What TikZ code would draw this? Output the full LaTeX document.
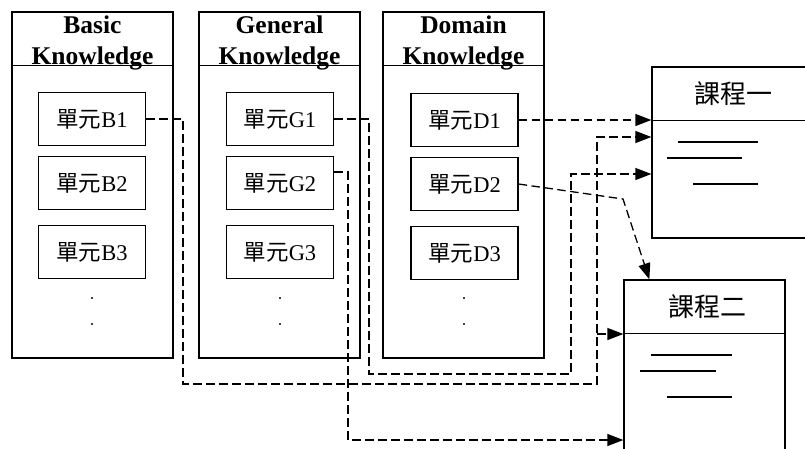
\documentclass[tikz,border=0pt]{standalone}
\usepackage{fontspec}
\setmainfont{Liberation Serif}
\newfontfamily\cjk{Noto Sans CJK TC}
\usetikzlibrary{arrows.meta}
\begin{document}
\begin{tikzpicture}[x=1pt,y=-1pt,
  colbox/.style={draw,line width=1.3pt,minimum width=161pt,minimum height=346pt,inner sep=0pt},
  hdr/.style={align=center,inner sep=0pt,font=\bfseries\fontsize{25.5}{31}\selectfont},
  unit/.style={draw,line width=1.3pt,minimum width=107pt,minimum height=53pt,inner sep=0pt,font=\fontsize{22.5}{26}\selectfont},
  course/.style={draw,line width=1.3pt,inner sep=0pt},
  ctitle/.style={inner sep=0pt,font=\cjk\fontsize{26}{30}\selectfont},
  rulestroke/.style={line width=1.2pt},
  dline/.style={line width=1.3pt,dash pattern=on 8.5pt off 4.5pt},
  darrow/.style={dline,-{Triangle[length=16pt,width=12pt]}},
  dotmark/.style={circle,fill,inner sep=0pt,minimum size=2.4pt}
]
\useasboundingbox (0,0) rectangle (805,448);
\clip (0,0) rectangle (805,448);

% columns
\node[colbox] (colB) at (92.5,185) {};
\node[colbox] (colG) at (279.5,185) {};
\node[colbox] (colD) at (463.5,185) {};
\foreach \c in {colB,colG,colD}{
  \draw[line width=1.3pt] ([yshift=-54pt]\c.north west) -- ([yshift=-54pt]\c.north east);
}
\node[hdr] (hB) at (92.5,42.5) {Basic\\Knowledge};
\node[hdr] (hG) at (279.5,42.5) {General\\Knowledge};
\node[hdr] (hD) at (463.5,42.5) {Domain\\Knowledge};

% units
\node[unit] (b1) at (92,119) {{\cjk 單元}B1};
\node[unit] (b2) at (92,183) {{\cjk 單元}B2};
\node[unit] (b3) at (92,252) {{\cjk 單元}B3};
\node[unit] (g1) at (280,119) {{\cjk 單元}G1};
\node[unit] (g2) at (280,183) {{\cjk 單元}G2};
\node[unit] (g3) at (280,252) {{\cjk 單元}G3};
\node[unit] (d1) at (464.5,120) {{\cjk 單元}D1};
\node[unit] (d2) at (464.5,184) {{\cjk 單元}D2};
\node[unit] (d3) at (464.5,253) {{\cjk 單元}D3};

% dots
\node[dotmark] (bdA) at (92,298) {};
\node[dotmark] (bdB) at (92,324) {};
\node[dotmark] (gdA) at (280,298) {};
\node[dotmark] (gdB) at (280,324) {};
\node[dotmark] (ddA) at (464,298) {};
\node[dotmark] (ddB) at (464,324) {};

% courses
\node[course,minimum width=178pt,minimum height=171pt] (c1) at (741,152.5) {};
\draw[line width=1.3pt] ([yshift=-54pt]c1.north west) -- ([yshift=-54pt]c1.north east);
\node[ctitle] (t1) at (733,94) {課程一};
\draw[rulestroke] (678,142) -- (758,142);
\draw[rulestroke] (667,158) -- (742,158);
\draw[rulestroke] (693,184) -- (758,184);

\node[course,minimum width=161pt,minimum height=190pt] (c2) at (704.5,375) {};
\draw[line width=1.3pt] ([yshift=-54pt]c2.north west) -- ([yshift=-54pt]c2.north east);
\node[ctitle] (t2) at (707,307) {課程二};
\draw[rulestroke] (651,355) -- (732,355);
\draw[rulestroke] (640,371) -- (716,371);
\draw[rulestroke] (667,397) -- (732,397);

% connector corner points
\coordinate (bdown) at (183,384);
\coordinate (kB) at (597,137);
\coordinate (kB2) at (597,334);
\coordinate (gdown) at (369,374);
\coordinate (kG) at (571,174);
\coordinate (g2down) at (348,440);
\coordinate (dbend) at (623,199);

% connectors
\draw[darrow] (b1.east) -| (bdown) -| (kB) -- (kB -| c1.west);
\draw[darrow] (kB2) -- (kB2 -| c2.west);
\draw[darrow] (g1.east) -| (gdown) -| (kG) -- (kG -| c1.west);
\draw[darrow] ([yshift=11pt]g2.east) -| (g2down) -- (g2down -| c2.west);
\draw[darrow] (d1.east) -- (d1.east -| c1.west);
\draw[darrow] (d2.east) -- (dbend) -- ([xshift=26pt]c2.north west);
\end{tikzpicture}
\end{document}
